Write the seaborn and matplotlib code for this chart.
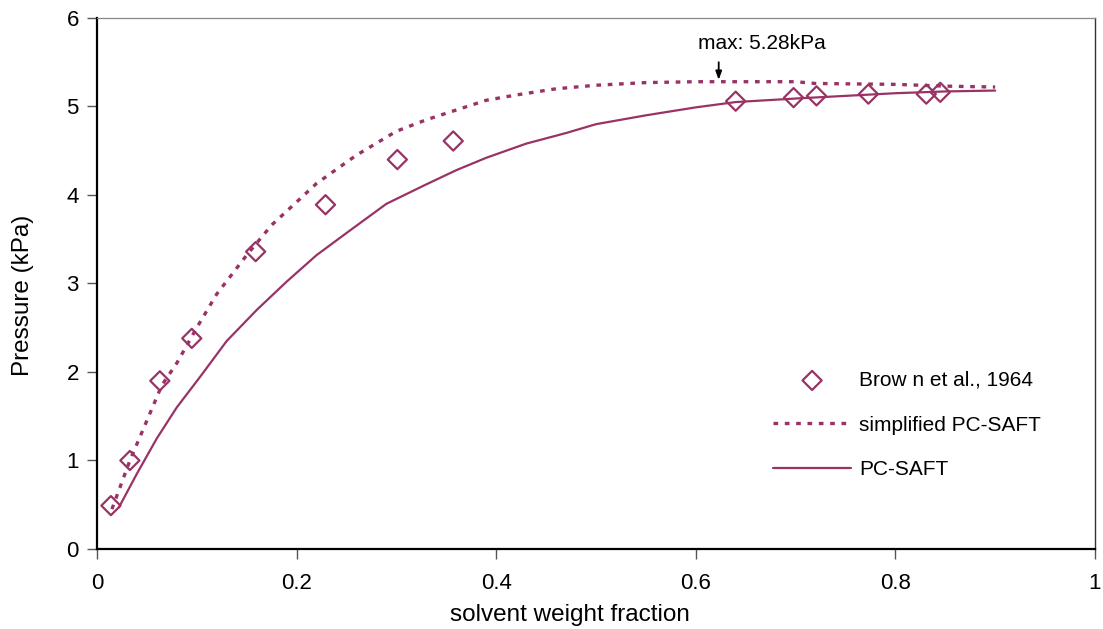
import matplotlib
matplotlib.use("Agg")
import matplotlib.pyplot as plt
import seaborn as sns
import pandas as pd

# Experimental vapour pressure data (Brown et al., 1964)
x_exp = [0.014, 0.033, 0.063, 0.095, 0.159, 0.229, 0.301, 0.357,
         0.640, 0.698, 0.721, 0.773, 0.831, 0.845]
p_exp = [0.49, 1.00, 1.90, 2.38, 3.36, 3.89, 4.40, 4.61,
         5.06, 5.10, 5.12, 5.14, 5.14, 5.16]

# simplified PC-SAFT model curve
x_simpl = [0.015, 0.033, 0.05, 0.065, 0.08, 0.10, 0.12, 0.15, 0.175, 0.20,
           0.22, 0.26, 0.30, 0.33, 0.36, 0.39, 0.42, 0.46, 0.50, 0.55,
           0.60, 0.65, 0.70, 0.72, 0.80, 0.85, 0.90]
p_simpl = [0.45, 1.00, 1.45, 1.85, 2.10, 2.50, 2.88, 3.32, 3.66, 3.92,
           4.13, 4.45, 4.72, 4.85, 4.96, 5.07, 5.13, 5.20, 5.24, 5.27,
           5.28, 5.28, 5.28, 5.26, 5.25, 5.23, 5.22]

# PC-SAFT model curve
x_pcsaft = [0.022, 0.04, 0.06, 0.08, 0.103, 0.13, 0.16, 0.19, 0.22, 0.25,
            0.29, 0.33, 0.36, 0.39, 0.43, 0.47, 0.50, 0.55, 0.60, 0.64,
            0.70, 0.75, 0.80, 0.85, 0.90]
p_pcsaft = [0.47, 0.85, 1.25, 1.60, 1.94, 2.35, 2.70, 3.02, 3.32, 3.57,
            3.90, 4.12, 4.28, 4.42, 4.58, 4.70, 4.80, 4.90, 4.99, 5.05,
            5.09, 5.12, 5.15, 5.17, 5.18]

x_ticks = [0, 0.2, 0.4, 0.6, 0.8, 1]
x_tick_labels = ["0", "0.2", "0.4", "0.6", "0.8", "1"]
y_ticks = [0, 1, 2, 3, 4, 5, 6]

max_label = "max: 5.28kPa"
max_x, max_p = 0.623, 5.28

sns.set_style("white")
plt.rcParams["font.family"] = ["Liberation Sans", "DejaVu Sans"]
plt.rcParams["text.color"] = "black"
plt.rcParams["axes.labelcolor"] = "black"

color = "#993366"

fig = plt.figure(figsize=(11.03, 6.29), dpi=100)
ax = fig.add_axes([0.0879, 0.1272, 0.9048, 0.8442])

df_exp = pd.DataFrame({"x": x_exp, "p": p_exp})
df_simpl = pd.DataFrame({"x": x_simpl, "p": p_simpl})
df_pc = pd.DataFrame({"x": x_pcsaft, "p": p_pcsaft})

sns.scatterplot(data=df_exp, x="x", y="p", ax=ax, marker="D", s=95,
                facecolors="none", edgecolor=color, linewidth=1.6,
                label="Brow n et al., 1964", zorder=3)
sns.lineplot(data=df_simpl, x="x", y="p", ax=ax, color=color, linewidth=2.4,
             label="simplified PC-SAFT", sort=False, estimator=None)
ax.lines[-1].set_linestyle((0, (1.4, 2.0)))
sns.lineplot(data=df_pc, x="x", y="p", ax=ax, color=color, linewidth=1.6,
             label="PC-SAFT", sort=False, estimator=None)

ax.set_xlim(0, 1)
ax.set_ylim(0, 6)
ax.set_xticks(x_ticks)
ax.set_xticklabels(x_tick_labels)
ax.set_yticks(y_ticks)
ax.tick_params(axis="both", direction="out", length=7, width=1.0,
               labelsize=16, color="#555555", labelcolor="black",
               left=True, bottom=True)
ax.tick_params(axis="x", pad=10)
ax.tick_params(axis="y", pad=6)
ax.set_xlabel("solvent weight fraction", fontsize=17.5)
ax.set_ylabel("Pressure (kPa)", fontsize=17.5)
ax.xaxis.set_label_coords(0.474, -0.104)
ax.yaxis.set_label_coords(-0.063, 0.478)

for side in ["left", "bottom"]:
    ax.spines[side].set_color("black")
    ax.spines[side].set_linewidth(1.6)
ax.spines["top"].set_color("#888888")
ax.spines["top"].set_linewidth(0.9)
ax.spines["right"].set_color("#333333")
ax.spines["right"].set_linewidth(1.0)

# annotation of the simplified PC-SAFT maximum
ax.annotate("", xy=(max_x, max_p + 0.02), xytext=(max_x, 5.50),
            arrowprops=dict(arrowstyle="-|>,head_width=0.18,head_length=0.5",
                            color="black", lw=1.3, shrinkA=0, shrinkB=0))
ax.text(max_x + 0.043, 5.71, max_label, ha="center", va="center",
        fontsize=15)

ax.legend(loc="upper left", bbox_to_anchor=(0.667, 0.355), frameon=False,
          fontsize=15, handlelength=3.75, handletextpad=0.38,
          labelspacing=1.23, borderpad=0)

fig.savefig("out.png", dpi=100)
